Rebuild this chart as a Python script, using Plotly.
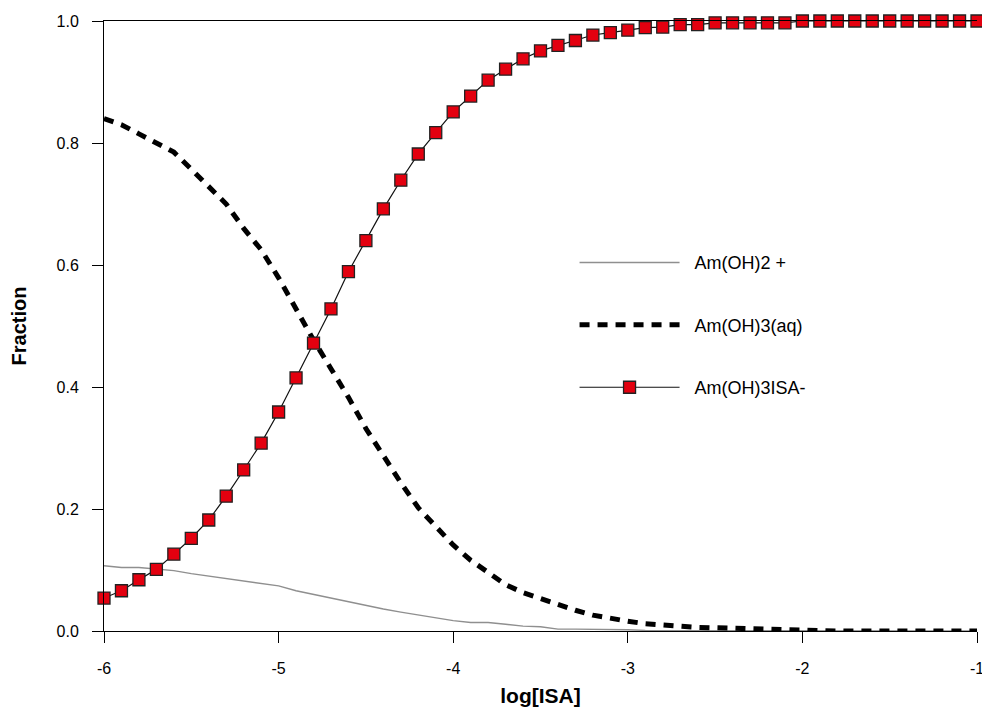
import plotly.graph_objects as go

# log[ISA] grid used for the speciation calculation
log_isa = [-6.0, -5.9, -5.8, -5.7, -5.6, -5.5, -5.4, -5.3, -5.2, -5.1,
           -5.0, -4.9, -4.8, -4.7, -4.6, -4.5, -4.4, -4.3, -4.2, -4.1,
           -4.0, -3.9, -3.8, -3.7, -3.6, -3.5, -3.4, -3.3, -3.2, -3.1,
           -3.0, -2.9, -2.8, -2.7, -2.6, -2.5, -2.4, -2.3, -2.2, -2.1,
           -2.0, -1.9, -1.8, -1.7, -1.6, -1.5, -1.4, -1.3, -1.2, -1.1,
           -1.0]

# Species fractions
am_oh2 = [0.107, 0.104, 0.104, 0.102, 0.099, 0.094, 0.090, 0.086, 0.081, 0.078,
          0.074, 0.066, 0.060, 0.053, 0.048, 0.041, 0.036, 0.031, 0.026, 0.021,
          0.017, 0.014, 0.014, 0.011, 0.008, 0.007, 0.003, 0.003, 0.003, 0.003,
          0.002, 0.001, 0.001, 0.001, 0.000, 0.000, 0.000, 0.000, 0.000, 0.000,
          0.000, 0.000, 0.000, 0.000, 0.000, 0.000, 0.000, 0.000, 0.000, 0.000,
          0.000]

am_oh3_aq = [0.840, 0.830, 0.815, 0.800, 0.785, 0.757, 0.728, 0.700, 0.660, 0.625,
             0.579, 0.526, 0.477, 0.430, 0.383, 0.332, 0.286, 0.243, 0.202, 0.170,
             0.141, 0.116, 0.095, 0.076, 0.063, 0.053, 0.042, 0.034, 0.026, 0.020,
             0.016, 0.012, 0.009, 0.008, 0.006, 0.005, 0.004, 0.003, 0.003, 0.002,
             0.001, 0.000, 0.000, 0.000, 0.000, 0.000, 0.000, 0.000, 0.000, 0.000,
             0.000]

am_oh3_isa = [0.054, 0.066, 0.084, 0.101, 0.126, 0.152, 0.182, 0.221, 0.264, 0.308,
              0.359, 0.415, 0.472, 0.528, 0.589, 0.640, 0.692, 0.739, 0.782, 0.817,
              0.851, 0.877, 0.903, 0.921, 0.938, 0.951, 0.960, 0.968, 0.977, 0.981,
              0.985, 0.989, 0.990, 0.994, 0.994, 0.997, 0.997, 0.997, 0.997, 0.997,
              1.000, 1.000, 1.000, 1.000, 1.000, 1.000, 1.000, 1.000, 1.000, 1.000,
              1.000]

x_ticks = [-6, -5, -4, -3, -2, -1]
x_ticktext = ["-6", "-5", "-4", "-3", "-2", "-1"]
y_ticks = [0.0, 0.2, 0.4, 0.6, 0.8, 1.0]
y_ticktext = ["0.0", "0.2", "0.4", "0.6", "0.8", "1.0"]

FONT = "Arial, 'Liberation Sans', sans-serif"
PAD = "\u00a0\u00a0"  # small gap between legend sample and its label

fig = go.Figure()

fig.add_trace(go.Scatter(
    x=log_isa, y=am_oh2, mode="lines", name=PAD + "Am(OH)2 +",
    legendgroup="a", cliponaxis=False,
    line=dict(color="#8f8f8f", width=1.4),
))

fig.add_trace(go.Scatter(
    x=log_isa, y=am_oh3_aq, mode="lines", name=PAD + "Am(OH)3(aq)",
    legendgroup="b", cliponaxis=False,
    line=dict(color="black", width=5, dash="10px,8px"),
))

fig.add_trace(go.Scatter(
    x=log_isa, y=am_oh3_isa, mode="lines+markers", name=PAD + "Am(OH)3ISA-",
    legendgroup="c", cliponaxis=False,
    line=dict(color="#111111", width=1.2),
    marker=dict(symbol="square", size=12, color="#e3000f",
                line=dict(color="#222222", width=1.3)),
))

fig.update_layout(
    width=982, height=708,
    margin=dict(l=104, r=5, t=21, b=77, autoexpand=False),
    plot_bgcolor="white", paper_bgcolor="white",
    font=dict(family=FONT, size=16, color="black"),
    showlegend=True,
    legend=dict(
        x=0.539, y=0.634, xanchor="left", yanchor="top",
        bgcolor="rgba(0,0,0,0)", borderwidth=0,
        font=dict(family=FONT, size=18, color="black"),
        tracegroupgap=36, itemwidth=100,
    ),
    xaxis=dict(
        range=[-6, -1], tickmode="array", tickvals=x_ticks, ticktext=x_ticktext,
        ticks="outside", ticklen=11, tickwidth=1, tickcolor="black",
        showline=True, linecolor="black", linewidth=1, mirror=True,
        showgrid=False, zeroline=False, automargin=False,
        ticklabelstandoff=12, ticklabeloverflow="allow",
        title=dict(text="<b>log[ISA]</b>", font=dict(family=FONT, size=21), standoff=12),
    ),
    yaxis=dict(
        range=[0, 1], tickmode="array", tickvals=y_ticks, ticktext=y_ticktext,
        ticks="outside", ticklen=11, tickwidth=1, tickcolor="black",
        showline=True, linecolor="black", linewidth=1,
        showgrid=False, zeroline=False, automargin=False,
        ticklabelstandoff=10,
        title=dict(text="<b>Fraction</b>", font=dict(family=FONT, size=20), standoff=24),
    ),
)

fig.write_html("out.html")
